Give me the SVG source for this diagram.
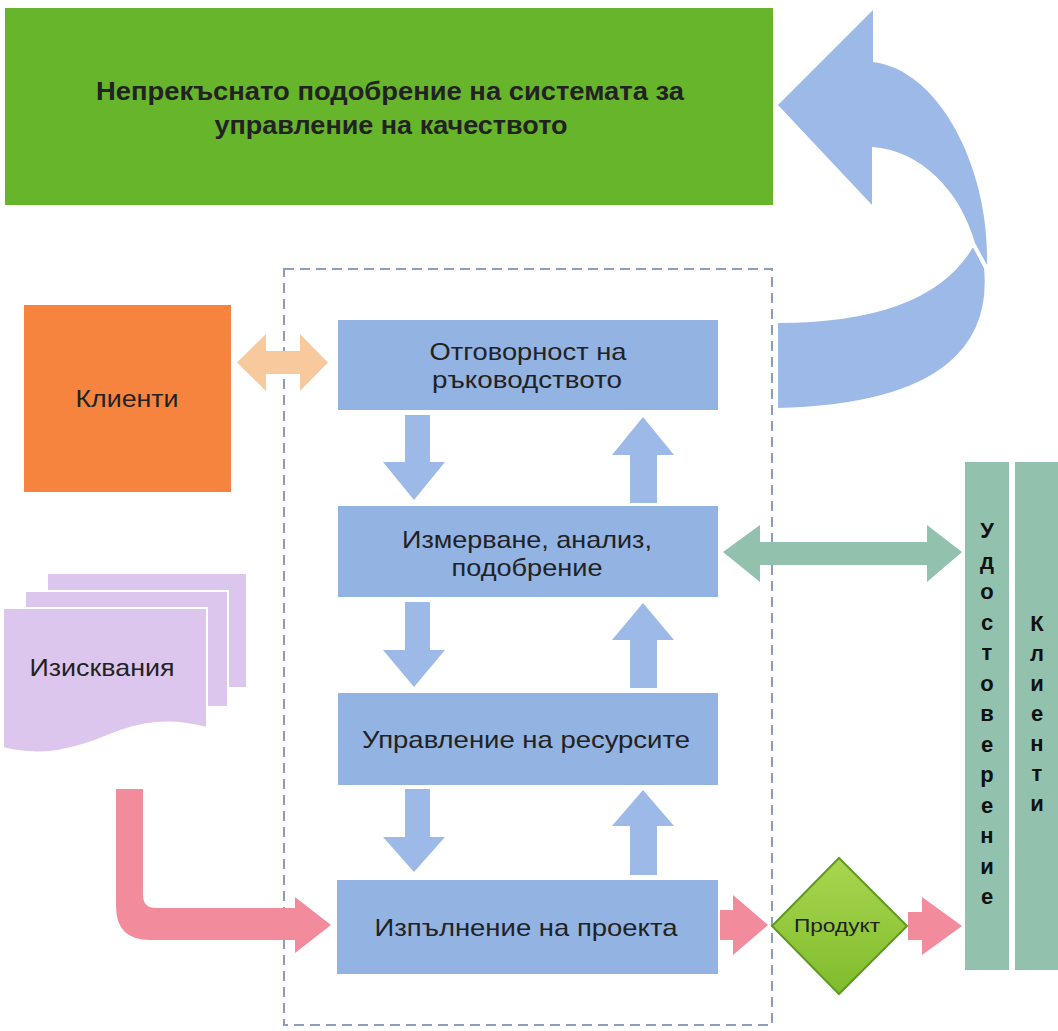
<svg xmlns="http://www.w3.org/2000/svg" width="1058" height="1031" viewBox="0 0 1058 1031">
<defs>
<style>
.t{font-family:"Liberation Sans",Arial,sans-serif;fill:#222;text-anchor:middle}
.box{fill:#93b3e3}
.barrow{fill:#9db9e7}
.pink{fill:#f28c9c}
.teal{fill:#92c1ad}
.vt{font-family:"Liberation Sans",Arial,sans-serif;font-weight:bold;font-size:22px;fill:#111;text-anchor:middle}
</style>
<linearGradient id="dg" x1="0" y1="0" x2="0" y2="1">
<stop offset="0" stop-color="#a9d650"/>
<stop offset="1" stop-color="#7fbc2c"/>
</linearGradient>
</defs>
<rect width="1058" height="1031" fill="#ffffff"/>

<g id="title">
<rect x="5" y="8" width="768" height="197" fill="#67b52a"/>
<text class="t" x="390" y="100" font-size="26" font-weight="bold" fill="#111" textLength="588" lengthAdjust="spacingAndGlyphs">Непрекъснато подобрение на системата за</text>
<text class="t" x="391" y="134" font-size="26" font-weight="bold" fill="#111" textLength="353" lengthAdjust="spacingAndGlyphs">управление на качеството</text>
</g>

<g id="container">
<rect x="284" y="269" width="488" height="756" fill="none" stroke="#8d9cbf" stroke-width="2" stroke-dasharray="10 6"/>
</g>

<g id="clients">
<rect x="24" y="305" width="207" height="187" fill="#f7843e"/>
<text class="t" x="127" y="407" font-size="23" textLength="103" lengthAdjust="spacingAndGlyphs">Клиенти</text>
</g>

<g id="requirements">
<rect x="47" y="573" width="200" height="115" fill="#dcc6ee" stroke="#ffffff" stroke-width="2"/>
<rect x="25" y="591" width="203" height="116" fill="#dcc6ee" stroke="#ffffff" stroke-width="2"/>
<path d="M3 608 H207 V728 C170 718 140 722 110 735 C75 750 40 758 3 748 Z" fill="#dcc6ee" stroke="#ffffff" stroke-width="2"/>
<text class="t" x="102" y="676" font-size="24" textLength="145" lengthAdjust="spacingAndGlyphs">Изисквания</text>
</g>

<g id="box-management">
<rect class="box" x="338" y="320" width="380" height="90"/>
<text class="t" x="528" y="360" font-size="24" textLength="197" lengthAdjust="spacingAndGlyphs">Отговорност на</text>
<text class="t" x="527" y="388" font-size="24" textLength="190" lengthAdjust="spacingAndGlyphs">ръководството</text>
</g>

<g id="box-measurement">
<rect class="box" x="338" y="506" width="380" height="91"/>
<text class="t" x="527" y="548" font-size="24" textLength="250" lengthAdjust="spacingAndGlyphs">Измерване, анализ,</text>
<text class="t" x="527" y="576" font-size="24" textLength="151" lengthAdjust="spacingAndGlyphs">подобрение</text>
</g>

<g id="box-resources">
<rect class="box" x="338" y="693" width="380" height="92"/>
<text class="t" x="526" y="748" font-size="24" textLength="328" lengthAdjust="spacingAndGlyphs">Управление на ресурсите</text>
</g>

<g id="box-execution">
<rect class="box" x="337" y="880" width="381" height="94"/>
<text class="t" x="526" y="936" font-size="24" textLength="303" lengthAdjust="spacingAndGlyphs">Изпълнение на проекта</text>
</g>

<g id="product">
<polygon points="839,858 907,926 839,994 772,926" fill="url(#dg)" stroke="#5e9a22" stroke-width="2"/>
<text class="t" x="837" y="932" font-size="19" fill="#1a1a1a" textLength="86" lengthAdjust="spacingAndGlyphs">Продукт</text>
</g>

<g id="certification">
<rect class="teal" x="965" y="462" width="44" height="508"/>
<text class="vt" x="987" y="538"><tspan x="987" dy="0">У</tspan><tspan x="987" dy="30.5">д</tspan><tspan x="987" dy="30.5">о</tspan><tspan x="987" dy="30.5">с</tspan><tspan x="987" dy="30.5">т</tspan><tspan x="987" dy="30.5">о</tspan><tspan x="987" dy="30.5">в</tspan><tspan x="987" dy="30.5">е</tspan><tspan x="987" dy="30.5">р</tspan><tspan x="987" dy="30.5">е</tspan><tspan x="987" dy="30.5">н</tspan><tspan x="987" dy="30.5">и</tspan><tspan x="987" dy="30.5">е</tspan></text>
</g>

<g id="clients-right">
<rect class="teal" x="1015" y="462" width="43" height="508"/>
<text class="vt" x="1037" y="631"><tspan x="1037" dy="0">К</tspan><tspan x="1037" dy="30">л</tspan><tspan x="1037" dy="30">и</tspan><tspan x="1037" dy="30">е</tspan><tspan x="1037" dy="30">н</tspan><tspan x="1037" dy="30">т</tspan><tspan x="1037" dy="30">и</tspan></text>
</g>

<g id="connectors">
<!-- curved improvement arrow -->
<path class="barrow" d="M987 265 C990 170 940 70 873 62 L873 10 L778 105 L872 205 L872 147 C920 150 960 190 975 243 Z"/>
<path class="barrow" d="M777 322 C880 322 945 295 973 245 L985 268 C992 340 950 405 777 409 Z" stroke="#ffffff" stroke-width="2"/>
<!-- orange double arrow -->
<polygon fill="#f9c99e" points="237,362.5 266,334 266,351 300,351 300,334 328,362.5 300,391 300,374 266,374 266,391"/>
<!-- teal double arrow -->
<polygon class="teal" points="723,552 760,525 760,542 927,542 927,525 962,552 927,582 927,565 760,565 760,582"/>
<!-- down arrows -->
<polygon class="barrow" points="405,415 430,415 430,462 445,462 414,500 383,462 405,462"/>
<polygon class="barrow" points="405,602 430,602 430,650 445,650 414,687 383,650 405,650"/>
<polygon class="barrow" points="405,789 430,789 430,837 445,837 414,872 383,837 405,837"/>
<!-- up arrows -->
<polygon class="barrow" points="630,503 657,503 657,455 674,455 643,417 612,455 630,455"/>
<polygon class="barrow" points="630,688 657,688 657,640 674,640 643,603 612,640 630,640"/>
<polygon class="barrow" points="630,875 657,875 657,826 674,826 643,790 612,826 630,826"/>
<!-- pink L arrow -->
<path class="pink" d="M116 789 H143 V895 Q143 908 156 908 H295 V897 L331 925 L295 953 V940 H150 Q116 940 116 906 Z"/>
<!-- pink small arrows -->
<polygon class="pink" points="720,910 733,910 733,895 768,925 733,955 733,940 720,940"/>
<polygon class="pink" points="908,912 922,912 922,897 962,926 922,955 922,940 908,940"/>
</g>
</svg>
